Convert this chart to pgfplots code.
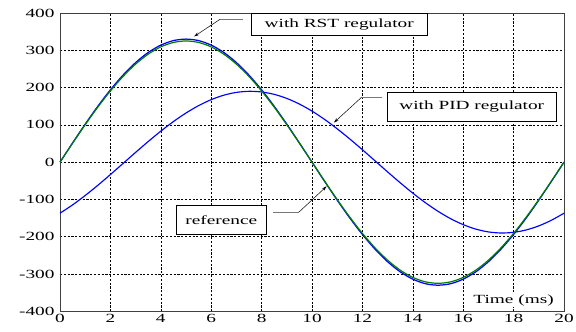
\documentclass[border=0pt]{standalone}
\usepackage{pgfplots}
\pgfplotsset{compat=1.18}
\usepackage{fontspec}
\setmainfont{Liberation Serif}[FakeStretch=1.55]
\usetikzlibrary{arrows.meta}
\definecolor{refgreen}{RGB}{0,125,0}
\definecolor{anngray}{RGB}{120,120,120}
\begin{document}
\begin{tikzpicture}
\useasboundingbox (-60bp,-20bp) rectangle (516bp,311.3bp);
\begin{axis}[
  at={(0,0)}, anchor=south west,
  scale only axis, width=504bp, height=298.3bp,
  xmin=0, xmax=20, ymin=-400, ymax=400,
  xtick={0,2,...,20}, ytick={-400,-300,...,400},
  grid=major,
  major grid style={black, dash pattern=on 2.2pt off 1.6pt, line width=0.55pt},
  axis line style={black!75, line width=0.8pt},
  tick style={draw=none},
  ticklabel style={font=\fontsize{12.5}{14}\selectfont},
  /pgf/number format/assume math mode=true,
  xticklabel style={yshift=1bp},
  yticklabel style={xshift=-2bp},
  clip=false,
]
% PID regulator
\addplot[blue, line width=1.15pt, smooth] coordinates {
(0,-136.9)(0.5,-114.6)(1,-89.4)(1.5,-62.1)(2,-33.3)(2.5,-3.6)(3,26.2)(3.5,55.3)(4,83.1)(4.5,108.8)
(5,131.8)(5.5,151.6)(6,167.6)(6.5,179.6)(7,187.1)(7.5,190.0)(8,188.2)(8.5,181.8)(9,170.9)(9.5,155.8)
(10,136.9)(10.5,114.6)(11,89.4)(11.5,62.1)(12,33.3)(12.5,3.6)(13,-26.2)(13.5,-55.3)(14,-83.1)(14.5,-108.8)
(15,-131.8)(15.5,-151.6)(16,-167.6)(16.5,-179.6)(17,-187.1)(17.5,-190.0)(18,-188.2)(18.5,-181.8)(19,-170.9)(19.5,-155.8)
(20,-136.9)};
% RST regulator
\addplot[blue, line width=1.25pt, smooth] coordinates {
(0,0)(0.5,51.6)(1,101.9)(1.5,149.8)(2,193.9)(2.5,233.3)(3,267.0)(3.5,294.1)(4,313.8)(4.5,326.0)
(5,330.0)(5.5,326.0)(6,313.8)(6.5,294.1)(7,267.0)(7.5,233.3)(8,193.9)(8.5,149.8)(9,101.9)(9.5,51.6)
(10,0)(10.5,-51.6)(11,-101.9)(11.5,-149.8)(12,-193.9)(12.5,-233.3)(13,-267.0)(13.5,-294.1)(14,-313.8)(14.5,-326.0)
(15,-330.0)(15.5,-326.0)(16,-313.8)(16.5,-294.1)(17,-267.0)(17.5,-233.3)(18,-193.9)(18.5,-149.8)(19,-101.9)(19.5,-51.6)
(20,0)};
% reference
\addplot[refgreen, line width=1.2pt, smooth] coordinates {
(0,0)(0.5,50.8)(1,100.4)(1.5,147.5)(2,191.0)(2.5,229.8)(3,262.9)(3.5,289.6)(4,309.1)(4.5,321.0)
(5,325.0)(5.5,321.0)(6,309.1)(6.5,289.6)(7,262.9)(7.5,229.8)(8,191.0)(8.5,147.5)(9,100.4)(9.5,50.8)
(10,0)(10.5,-50.8)(11,-100.4)(11.5,-147.5)(12,-191.0)(12.5,-229.8)(13,-262.9)(13.5,-289.6)(14,-309.1)(14.5,-321.0)
(15,-325.0)(15.5,-321.0)(16,-309.1)(16.5,-289.6)(17,-262.9)(17.5,-229.8)(18,-191.0)(18.5,-147.5)(19,-100.4)(19.5,-50.8)
(20,0)};
% annotations
\draw[black, line width=0.7pt, fill=white] (axis cs:7.58,340) rectangle (axis cs:14.59,399);
\node[font=\fontsize{12.5}{14}\selectfont] at (axis cs:11.08,369.5) {with RST regulator};
\draw[anngray, line width=0.7pt] (axis cs:7.26,383) -- (axis cs:6.35,383);
\draw[black, line width=0.5pt, -{Stealth[length=5pt,width=3pt]}] (axis cs:6.35,383) -- (axis cs:5.32,337);

\draw[black, line width=0.7pt, fill=white] (axis cs:13.0,110.4) rectangle (axis cs:19.68,186.5);
\node[font=\fontsize{12.5}{14}\selectfont] at (axis cs:16.34,148.5) {with PID regulator};
\draw[anngray, line width=0.7pt] (axis cs:12.77,174.7) -- (axis cs:11.98,174.7);
\draw[black, line width=0.5pt, -{Stealth[length=5pt,width=3pt]}] (axis cs:11.98,174.7) -- (axis cs:10.87,106);

\draw[black, line width=0.7pt, fill=white] (axis cs:4.60,-193.5) rectangle (axis cs:8.20,-115.7);
\node[font=\fontsize{12.5}{14}\selectfont] at (axis cs:6.40,-154.6) {reference};
\draw[anngray, line width=0.7pt] (axis cs:8.44,-135.3) -- (axis cs:9.46,-135.3);
\draw[black, line width=0.5pt, -{Stealth[length=5pt,width=3pt]}] (axis cs:9.46,-135.3) -- (axis cs:10.58,-64.8);

\node[font=\fontsize{12.5}{14}\selectfont, fill=white, inner sep=1pt] at (axis cs:18.0,-370) {Time (ms)};
\end{axis}
\end{tikzpicture}
\end{document}
